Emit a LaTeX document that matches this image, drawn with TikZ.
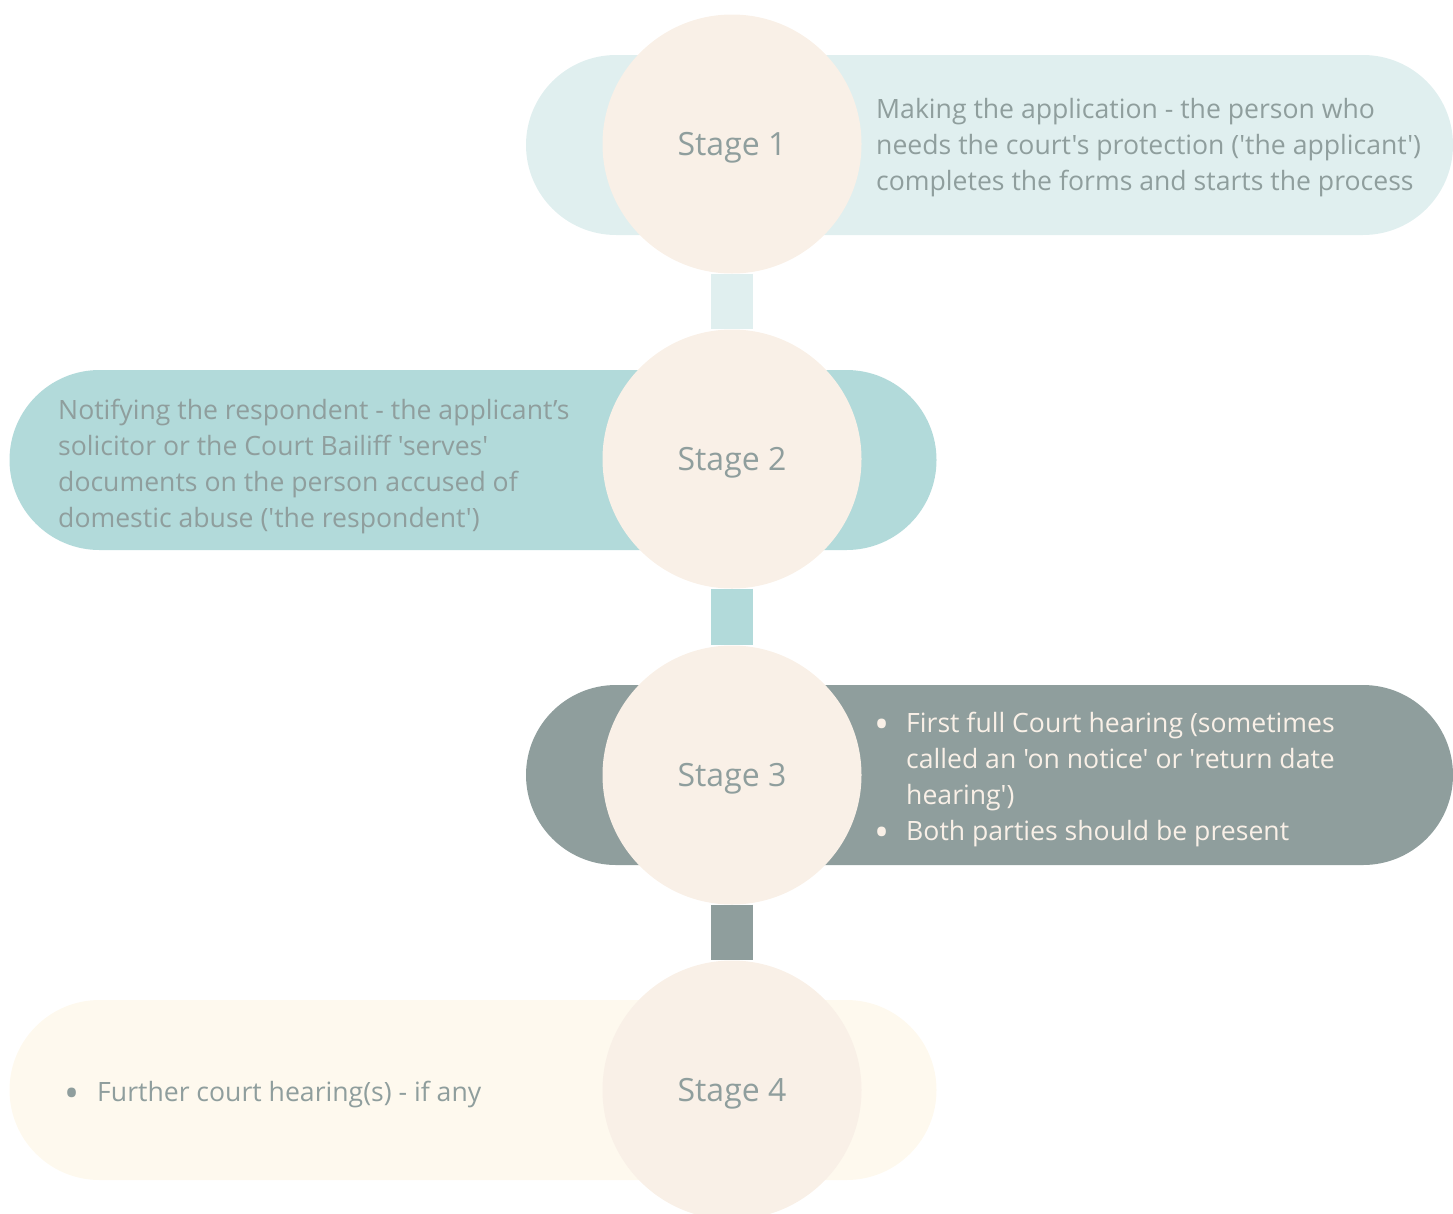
\documentclass[tikz,border=0pt]{standalone}
\usepackage{fontspec}
\newfontfamily\opensans{Open Sans}
\usetikzlibrary{backgrounds}

\definecolor{paleteal}{HTML}{E0EFEF}
\definecolor{midteal}{HTML}{B2DADA}
\definecolor{slate}{HTML}{8F9E9D}
\definecolor{ivory}{HTML}{FEF9EE}
\definecolor{cream}{HTML}{F9F0E7}
\definecolor{greytext}{HTML}{8F9E9D}

\newcommand{\blt}[1]{\llap{\raisebox{-6pt}{\fontsize{40}{36}\selectfont\textbullet}\hspace{#1}}}

\begin{document}
\begin{tikzpicture}[
    x=1pt, y=-1pt,
    pill/.style={rectangle, rounded corners=90pt, minimum width=927pt, minimum height=180pt, inner sep=0pt},
    stage/.style={circle, fill=cream, minimum size=259pt, inner sep=0pt, text depth=0pt, text=greytext, font=\opensans\fontsize{32}{38}\selectfont},
    info/.style={anchor=west, align=left, inner sep=0pt, text=greytext, font=\opensans\fontsize{26.6}{36}\selectfont},
    bar/.style={line width=42pt}
]
\useasboundingbox (0,0) rectangle (1453,1213);

\node[pill, fill=paleteal] (p1) at (989.5,145){};
\node[pill, fill=midteal] (p2) at (473,460){};
\node[pill, fill=slate] (p3) at (989.5,775){};
\node[pill, fill=ivory] (p4) at (473,1090){};

\node[stage] (s1) at (732,144){Stage 1};
\node[stage] (s2) at (732,459){Stage 2};
\node[stage] (s3) at (732,775){Stage 3};
\node[stage] (s4) at (732,1090){Stage 4};

\node[info] (t1) at (876,148){Making the application - the person who\\needs the court's protection ('the applicant')\\completes the forms and starts the process};
\node[info] (t2) at (58,467){Notifying the respondent - the applicant’s\\solicitor or the Court Bailiff 'serves'\\documents on the person accused of\\domestic abuse ('the respondent')};
\node[info, text=cream] (t3) at (906,780){\blt{17pt}First full Court hearing (sometimes\\called an 'on notice' or 'return date\\hearing')\\\blt{17pt}Both parties should be present};
\node[info] (t4) at (97,1095){\blt{18pt}Further court hearing(s) - if any};

\begin{pgfonlayer}{background}
\draw[bar, draw=paleteal] (s1)--(s2);
\draw[bar, draw=midteal] (s2)--(s3);
\draw[bar, draw=slate] (s3)--(s4);
\end{pgfonlayer}

\end{tikzpicture}
\end{document}
